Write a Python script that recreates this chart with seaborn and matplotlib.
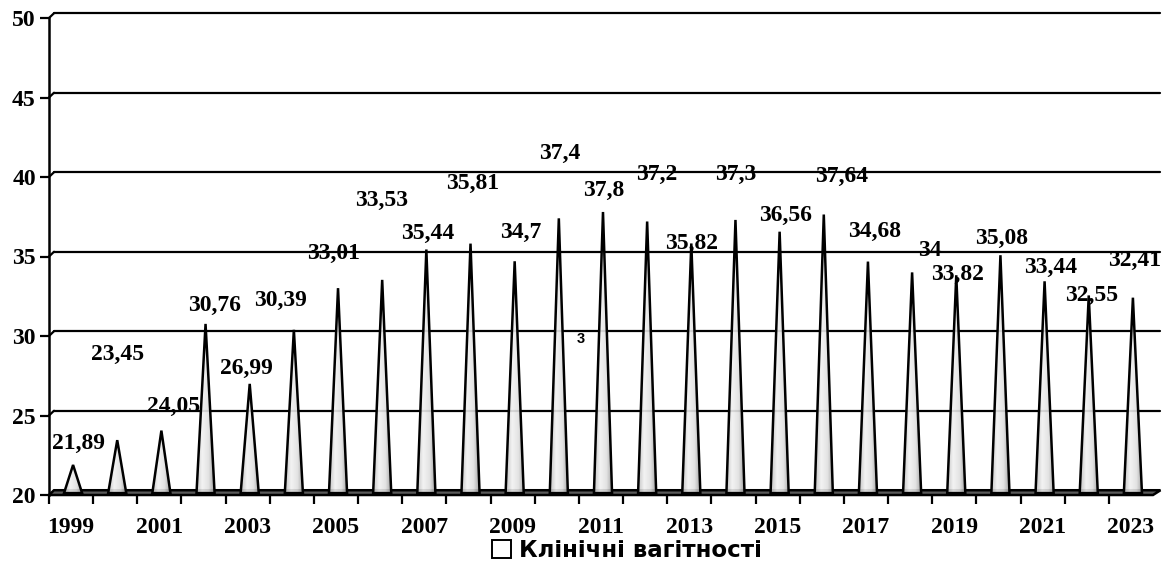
import numpy as np
import pandas as pd
import matplotlib
matplotlib.use('Agg')
import matplotlib.pyplot as plt
import seaborn as sns
from matplotlib.patches import Polygon, Patch
from matplotlib.colors import LinearSegmentedColormap

# ---------------- data ----------------
years = [1999, 2000, 2001, 2002, 2003, 2004, 2005, 2006, 2007, 2008, 2009, 2010, 2011,
         2012, 2013, 2014, 2015, 2016, 2017, 2018, 2019, 2020, 2021, 2022, 2023]
values = [21.89, 23.45, 24.05, 30.76, 26.99, 30.39, 33.01, 33.53, 35.44, 35.81, 34.7, 37.4, 37.8,
          37.2, 35.82, 37.3, 36.56, 37.64, 34.68, 34, 33.82, 35.08, 33.44, 32.55, 32.41]
series_name = 'Клінічні вагітності'

# where excel dropped the data labels (offset from each cone top, data units)
label_dx = [0.16, 0.06, 0.33, 0.24, -0.02, -0.25, -0.05, 0.04, 0.08, 0.10, 0.19, 0.07, 0.05,
            0.27, 0.06, 0.06, 0.19, 0.46, 0.20, 0.45, 0.08, 0.08, 0.19, 0.10, 0.09]
label_dy = [1.38, 5.36, 1.55, 1.19, 1.00, 1.87, 2.21, 5.02, 0.98, 3.81, 1.84, 4.05, 1.38,
            2.99, -0.03, 2.89, 1.05, 2.42, 1.92, 1.35, 0.02, 1.08, 0.84, -0.03, 2.31]

df = pd.DataFrame({'year': [str(y) for y in years], 'value': values})

# ---------------- style ----------------
sns.set_theme(style='white')
plt.rcParams['font.family'] = ['Liberation Serif', 'DejaVu Serif']
plt.rcParams['font.weight'] = 'bold'
for k in ['text.color', 'xtick.color', 'ytick.color', 'axes.labelcolor']:
    plt.rcParams[k] = 'black'

W, H = 1165, 566
fig = plt.figure(figsize=(W / 100, H / 100), dpi=100)
ax = fig.add_axes([49 / W, 1 - 495 / H, (1153 - 49) / W, (495 - 18) / H])

YMIN, YMAX = 20, 50
# 3d depth offset of the back wall (data units)
ddx, ddy = 0.113, 0.30

# bars from seaborn -> redrawn as cones
sns.barplot(data=df, x='year', y='value', width=0.41, color='white', ax=ax)

cmap = LinearSegmentedColormap.from_list('cone', ['#c0c0c0', '#f2f2f2', '#e0e0e0', '#969696'])
grad = np.linspace(0, 1, 64).reshape(1, -1)
base = YMIN + 0.12
for p in ax.patches:
    w = p.get_width()
    cx = p.get_x() + w / 2 + 0.045
    top = p.get_height()
    p.set_visible(False)
    pts = [(cx - w / 2, base), (cx, top), (cx + w / 2, base)]
    clip = Polygon(pts, closed=True, transform=ax.transData)
    im = ax.imshow(grad, extent=[cx - w / 2, cx + w / 2, base, top], cmap=cmap,
                   aspect='auto', alpha=0.9, zorder=4, interpolation='bilinear')
    im.set_clip_path(clip)
    ax.add_patch(Polygon(pts, closed=True, fill=False, edgecolor='black', lw=1.8, zorder=5))

# gridlines on the back wall
for g in range(25, YMAX + 1, 5):
    ax.plot([-0.5, -0.5 + ddx], [g, g + ddy], color='black', lw=1.6, clip_on=False, zorder=2)
    ax.plot([-0.5 + ddx, 24.5 + 1.5 * ddx], [g + ddy, g + ddy], color='black', lw=1.6,
            clip_on=False, zorder=2)

# floor
floor = Polygon([(-0.5, YMIN), (24.5, YMIN), (24.5 + 1.5 * ddx, YMIN + ddy),
                 (-0.5 + ddx, YMIN + ddy)], closed=True, facecolor='#5a5a5a',
                edgecolor='black', lw=1.8, clip_on=False, zorder=3)
ax.add_patch(floor)

# data labels
for i, v in enumerate(values):
    txt = f'{v:g}'.replace('.', ',')
    ax.text(i + label_dx[i], v + label_dy[i], txt, ha='center', va='center',
            fontsize=17, fontweight='bold', zorder=1)
ax.text(11.55, 29.8, '3', ha='center', va='center', fontsize=10.5, fontweight='bold',
        family=['Liberation Sans', 'DejaVu Sans'], zorder=1)

# axes
ax.set_xlim(-0.5, 24.5)
ax.set_ylim(YMIN, YMAX)
ax.set_xlabel('')
ax.set_ylabel('')
ax.set_yticks(range(YMIN, YMAX + 1, 5))
ax.set_yticklabels([str(t) for t in range(YMIN, YMAX + 1, 5)], fontsize=17, fontweight='bold')
ax.set_xticks(range(0, len(years), 2))
ax.set_xticklabels([str(y) for y in years[::2]], fontsize=17, fontweight='bold')
ax.set_xticks(np.arange(-0.5, len(years) - 1, 1), minor=True)
ax.tick_params(axis='y', length=6.5, width=1.6, color='black', pad=3, left=True)
ax.tick_params(axis='x', which='major', length=0, pad=16)
ax.tick_params(axis='x', which='minor', length=6.5, width=1.6, color='black', bottom=True)
for s in ['top', 'right', 'bottom']:
    ax.spines[s].set_visible(False)
ax.spines['left'].set_color('black')
ax.spines['left'].set_linewidth(1.8)
ax.grid(False)

# legend
handle = Patch(facecolor='white', edgecolor='black', lw=1.4)
fig.legend(handles=[handle], labels=[series_name], loc='center', bbox_to_anchor=(0.538, 0.027),
           frameon=False, handlelength=0.85, handleheight=0.85, handletextpad=0.35,
           borderpad=0, borderaxespad=0,
           prop={'family': ['DejaVu Sans'], 'weight': 'bold', 'size': 16.5})

fig.savefig('out.png', dpi=100)
